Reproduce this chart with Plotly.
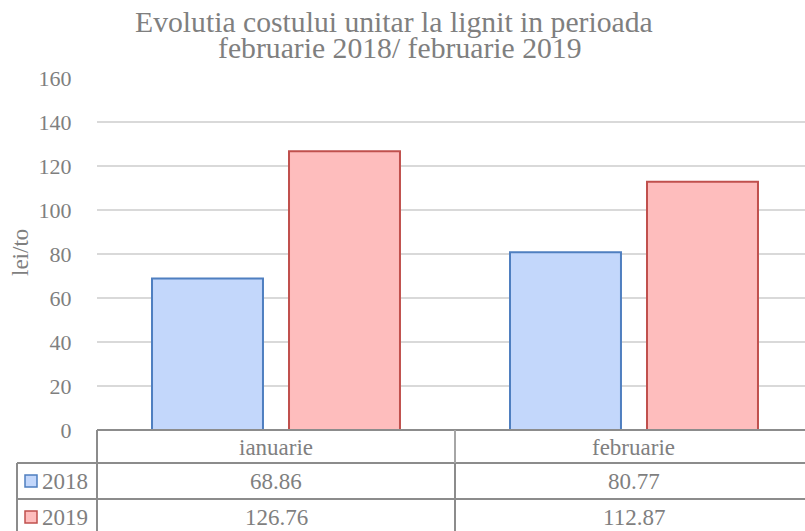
import plotly.graph_objects as go

# ---- data ----
categories = ["ianuarie", "februarie"]
series_names = ["2018", "2019"]
values_2018 = [68.86, 80.77]
values_2019 = [126.76, 112.87]
y_ticks = [0, 20, 40, 60, 80, 100, 120, 140, 160]
title_lines = ["Evolutia costului unitar la lignit in perioada",
               "februarie 2018/ februarie 2019"]
y_title = "lei/to"

FONT = "'Liberation Serif', 'Times New Roman', 'DejaVu Serif', serif"
TXT = "#7f7f7f"
GRID = "#d9d9d9"
TLINE = "#8c8c8c"

W, H = 805, 531
ML, MR, MT, MB = 97, 0, 78, 101
PW, PH = W - ML - MR, H - MT - MB


def fx(px):
    return (px - ML) / PW


def fy(py):
    return (H - MB - py) / PH


fills = ["#c3d7fb", "#febdbd"]
borders = ["#4f7fc0", "#c0504d"]
series_vals = [values_2018, values_2019]

fig = go.Figure()
for name, vals, fc, bc in zip(series_names, series_vals, fills, borders):
    fig.add_trace(go.Bar(
        x=categories, y=vals, name=name,
        marker=dict(color=fc, line=dict(color=bc, width=2)),
        showlegend=False, hoverinfo="x+y+name"))

shapes = []
line = dict(color=TLINE, width=2)
# table horizontal lines
shapes.append(dict(type="line", xref="paper", yref="paper", x0=0, x1=1.05, y0=0, y1=0, line=line))
shapes.append(dict(type="line", xref="paper", yref="paper", x0=fx(17), x1=1.05, y0=fy(463), y1=fy(463), line=line))
shapes.append(dict(type="line", xref="paper", yref="paper", x0=fx(17), x1=1.05, y0=fy(499), y1=fy(499), line=line))
# table vertical lines
shapes.append(dict(type="line", xref="paper", yref="paper", x0=0, x1=0, y0=0, y1=fy(540), line=line))
shapes.append(dict(type="line", xref="paper", yref="paper", x0=fx(17), x1=fx(17), y0=fy(463), y1=fy(540), line=line))
shapes.append(dict(type="line", xref="x", yref="paper", x0=0.5, x1=0.5, y0=0, y1=fy(463),
                   line=dict(color="#a6a6a6", width=2)))
shapes.append(dict(type="line", xref="x", yref="paper", x0=0.5, x1=0.5, y0=fy(463), y1=fy(540), line=line))

row_centers = [481, 517]
for i, (name, vals) in enumerate(zip(series_names, series_vals)):
    yc = row_centers[i]
    shapes.append(dict(type="rect", xref="paper", yref="paper",
                       x0=fx(25), x1=fx(37), y0=fy(yc - 6), y1=fy(yc + 6),
                       fillcolor=fills[i], line=dict(color=borders[i], width=1.5)))

annotations = []
# title
annotations.append(dict(text=title_lines[0], xref="paper", yref="paper", x=fx(394), y=fy(22.5),
                        xanchor="center", yanchor="middle", showarrow=False,
                        font=dict(family=FONT, size=29.7, color=TXT)))
annotations.append(dict(text=title_lines[1], xref="paper", yref="paper", x=fx(400), y=fy(48),
                        xanchor="center", yanchor="middle", showarrow=False,
                        font=dict(family=FONT, size=29.7, color=TXT)))
# y axis title
annotations.append(dict(text=y_title, xref="paper", yref="paper", x=fx(20), y=fy(253),
                        xanchor="center", yanchor="middle", showarrow=False, textangle=-90,
                        font=dict(family=FONT, size=23, color=TXT)))
# table header
for c in categories:
    annotations.append(dict(text=c, xref="x", yref="paper", x=c, y=fy(447),
                            xanchor="center", yanchor="middle", showarrow=False,
                            font=dict(family=FONT, size=23, color=TXT)))
# table rows
for i, (name, vals) in enumerate(zip(series_names, series_vals)):
    yc = row_centers[i]
    annotations.append(dict(text=name, xref="paper", yref="paper", x=fx(40), y=fy(yc),
                            xanchor="left", yanchor="middle", showarrow=False,
                            font=dict(family=FONT, size=23, color=TXT)))
    for c, v in zip(categories, vals):
        annotations.append(dict(text=f"{v:.2f}", xref="x", yref="paper", x=c, y=fy(yc),
                                xanchor="center", yanchor="middle", showarrow=False,
                                font=dict(family=FONT, size=23, color=TXT)))

fig.update_layout(
    width=W, height=H,
    margin=dict(l=ML, r=MR, t=MT, b=MB, pad=0),
    paper_bgcolor="white", plot_bgcolor="white",
    barmode="group", bargap=0.2346, bargroupgap=0.19,
    shapes=shapes, annotations=annotations,
    font=dict(family=FONT, color=TXT),
    xaxis=dict(range=[-0.5, 1.4777], showticklabels=False, showgrid=False,
               zeroline=False, showline=False, ticks=""),
    yaxis=dict(range=[0, 160], tickvals=y_ticks, showgrid=True, gridcolor=GRID,
               gridwidth=2, zeroline=False, showline=False,
               ticks="outside", ticklen=20, tickcolor="rgba(0,0,0,0)",
               tickfont=dict(family=FONT, size=22, color=TXT)),
)

fig.write_html("out.html", config={"displayModeBar": False},
               post_script="document.body.style.margin='0';document.body.style.overflow='hidden';")
